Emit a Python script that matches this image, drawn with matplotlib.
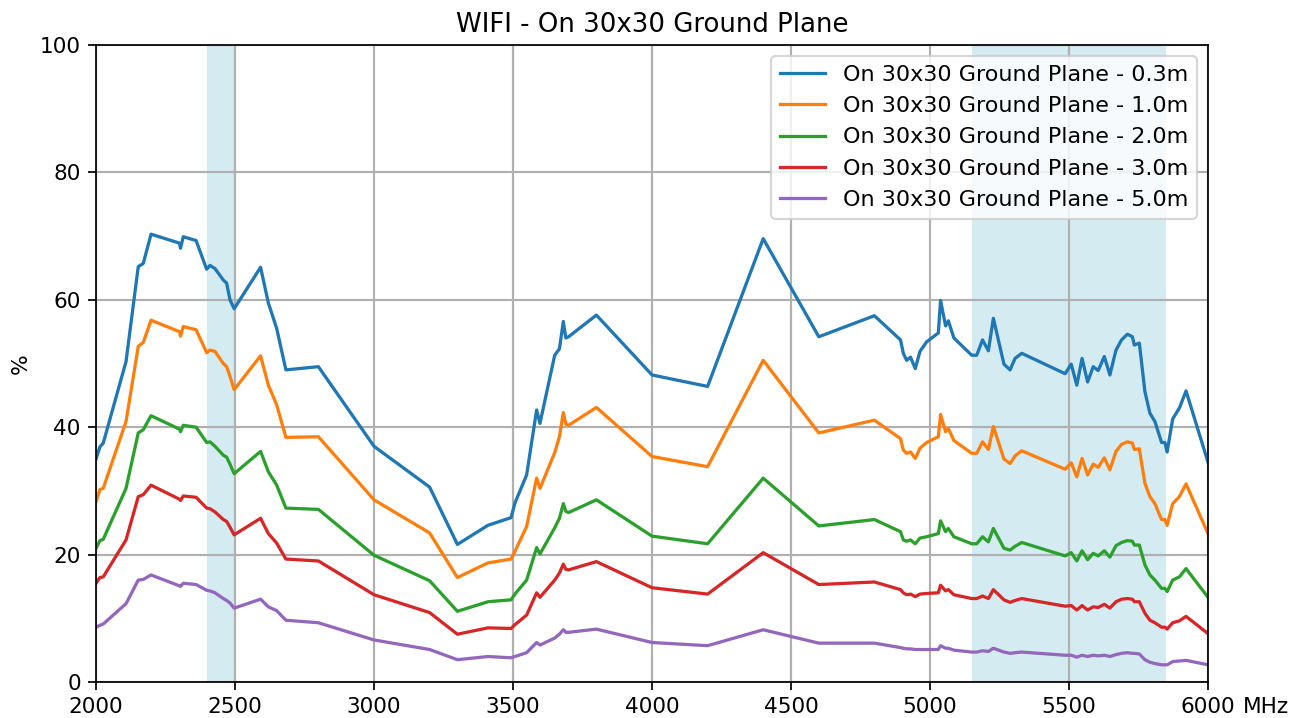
import matplotlib
matplotlib.use('Agg')
import matplotlib.pyplot as plt

freq = [2000, 2014, 2026, 2108, 2152, 2170, 2198, 2300, 2304, 2314, 2360, 2398, 2410, 2428,
        2458, 2470, 2482, 2497, 2592, 2620, 2650, 2683, 2800, 3000, 3200, 3300, 3410, 3493,
        3507, 3549, 3585, 3597, 3650, 3667, 3681, 3690, 3700, 3800, 4000, 4200, 4400, 4600,
        4800, 4894, 4904, 4916, 4930, 4947, 4964, 4988, 5030, 5038, 5056, 5066, 5086, 5150,
        5168, 5189, 5210, 5228, 5266, 5288, 5306, 5330, 5486, 5508, 5528, 5547, 5567, 5587,
        5605, 5627, 5647, 5669, 5689, 5710, 5728, 5735, 5753, 5773, 5791, 5809, 5833, 5845,
        5853, 5873, 5897, 5921, 6000]

eff_03 = [35.0, 36.9, 37.5, 50.3, 65.2, 65.7, 70.3, 68.9, 68.1, 69.9, 69.3, 64.8, 65.4, 64.9,
          63.1, 62.6, 60.0, 58.6, 65.1, 59.5, 55.5, 49.0, 49.5, 37.0, 30.6, 21.6, 24.6, 25.8,
          28.1, 32.5, 42.7, 40.6, 51.3, 52.3, 56.6, 54.0, 54.2, 57.6, 48.2, 46.4, 69.6, 54.2,
          57.5, 53.7, 51.6, 50.5, 51.0, 49.2, 51.9, 53.4, 54.8, 59.9, 55.9, 56.7, 54.0, 51.3,
          51.3, 53.7, 52.0, 57.1, 49.9, 49.0, 50.8, 51.6, 48.4, 49.9, 46.6, 50.8, 47.1, 49.5,
          48.9, 51.1, 48.2, 52.1, 53.7, 54.6, 54.2, 52.9, 53.2, 45.6, 42.2, 40.9, 37.6, 37.6,
          36.1, 41.3, 43.0, 45.7, 34.5]

eff_10 = [28.3, 30.2, 30.4, 40.9, 52.7, 53.3, 56.8, 55.0, 54.3, 55.8, 55.3, 51.7, 52.1, 51.9,
          50.0, 49.5, 48.0, 45.9, 51.2, 46.6, 43.5, 38.4, 38.5, 28.6, 23.4, 16.4, 18.7, 19.3,
          20.5, 24.4, 32.0, 30.4, 36.0, 38.5, 42.3, 40.5, 40.3, 43.1, 35.4, 33.8, 50.5, 39.1,
          41.1, 38.2, 36.4, 35.9, 36.1, 35.1, 36.7, 37.6, 38.5, 42.0, 39.3, 39.8, 37.9, 35.9,
          35.9, 37.7, 36.5, 40.1, 35.0, 34.3, 35.5, 36.3, 33.4, 34.4, 32.2, 35.1, 32.5, 34.2,
          33.7, 35.2, 33.3, 36.2, 37.3, 37.7, 37.5, 36.5, 36.6, 31.2, 29.1, 28.0, 25.5, 25.5,
          24.6, 28.0, 29.1, 31.1, 23.3]

eff_20 = [21.0, 22.2, 22.4, 30.4, 39.1, 39.6, 41.8, 39.7, 39.3, 40.3, 40.0, 37.6, 37.7, 37.0,
          35.6, 35.3, 34.2, 32.7, 36.2, 33.0, 30.9, 27.3, 27.1, 19.9, 15.9, 11.1, 12.6, 12.9,
          13.8, 16.0, 21.1, 20.1, 24.2, 25.7, 28.0, 26.8, 26.6, 28.6, 22.9, 21.7, 32.0, 24.5,
          25.5, 23.6, 22.3, 22.1, 22.3, 21.7, 22.6, 22.8, 23.3, 25.3, 23.6, 24.1, 22.8, 21.7,
          21.7, 22.8, 22.0, 24.1, 21.0, 20.7, 21.3, 21.9, 19.8, 20.3, 19.0, 20.6, 19.2, 20.2,
          19.8, 20.6, 19.6, 21.4, 21.9, 22.2, 22.1, 21.5, 21.5, 18.4, 16.8, 16.0, 14.7, 14.7,
          14.2, 16.0, 16.5, 17.8, 13.3]

eff_30 = [15.5, 16.4, 16.5, 22.3, 29.1, 29.4, 30.9, 28.7, 28.5, 29.2, 29.0, 27.3, 27.2, 26.7,
          25.5, 25.2, 24.3, 23.1, 25.7, 23.3, 21.8, 19.3, 19.0, 13.7, 10.9, 7.5, 8.5, 8.4,
          9.0, 10.5, 14.0, 13.3, 16.0, 17.1, 18.5, 17.7, 17.6, 18.9, 14.8, 13.8, 20.3, 15.3,
          15.7, 14.5, 14.0, 13.7, 13.8, 13.4, 13.8, 13.9, 14.0, 15.2, 14.3, 14.5, 13.7, 13.1,
          13.1, 13.5, 13.1, 14.5, 12.9, 12.5, 12.8, 13.1, 11.9, 12.0, 11.3, 12.0, 11.3, 11.8,
          11.7, 12.2, 11.6, 12.6, 13.0, 13.1, 13.0, 12.6, 12.6, 10.8, 9.7, 9.3, 8.6, 8.6,
          8.3, 9.3, 9.6, 10.3, 7.6]

eff_50 = [8.6, 8.9, 9.1, 12.3, 16.0, 16.1, 16.8, 15.1, 15.0, 15.5, 15.3, 14.4, 14.3, 14.0,
          13.1, 12.8, 12.4, 11.6, 13.0, 11.8, 11.2, 9.7, 9.3, 6.6, 5.1, 3.5, 4.0, 3.8,
          4.0, 4.6, 6.2, 5.8, 6.9, 7.5, 8.2, 7.8, 7.8, 8.3, 6.2, 5.7, 8.2, 6.1,
          6.1, 5.4, 5.3, 5.2, 5.2, 5.1, 5.1, 5.1, 5.1, 5.7, 5.3, 5.3, 5.0, 4.7,
          4.7, 4.9, 4.8, 5.3, 4.7, 4.5, 4.6, 4.7, 4.2, 4.2, 3.9, 4.2, 4.0, 4.2,
          4.1, 4.2, 4.0, 4.3, 4.5, 4.6, 4.5, 4.5, 4.4, 3.5, 3.1, 2.9, 2.7, 2.7,
          2.7, 3.2, 3.3, 3.4, 2.7]

series = [eff_03, eff_10, eff_20, eff_30, eff_50]
labels = ['On 30x30 Ground Plane - 0.3m', 'On 30x30 Ground Plane - 1.0m',
          'On 30x30 Ground Plane - 2.0m', 'On 30x30 Ground Plane - 3.0m',
          'On 30x30 Ground Plane - 5.0m']
bands = [(2400, 2500), (5150, 5850)]
xticks = [2000, 2500, 3000, 3500, 4000, 4500, 5000, 5500, 6000]

DPI = 156
fig = plt.figure(figsize=(1304 / DPI, 718 / DPI), dpi=DPI)
ax = fig.add_axes([96 / 1304, 36 / 718, 1112 / 1304, 637 / 718])

for lo, hi in bands:
    ax.axvspan(lo, hi, color='lightblue', alpha=0.5, lw=0)

for y, lab in zip(series, labels):
    ax.plot(freq, y, label=lab)

ax.set_xlim(2000, 6000)
ax.set_ylim(0, 100)
ax.set_xticks(xticks)
ax.set_ylabel('%')
ax.set_title('WIFI - On 30x30 Ground Plane')
ax.grid(True, color='#b0b0b0', linewidth=1)
ax.legend(loc='upper right', fontsize=10.3)

# unit label next to the last x tick
ax.annotate('MHz', xy=(1, 0), xycoords='axes fraction', xytext=(16, -7),
            textcoords='offset points', ha='left', va='top')

fig.savefig('out.png', dpi=DPI)
